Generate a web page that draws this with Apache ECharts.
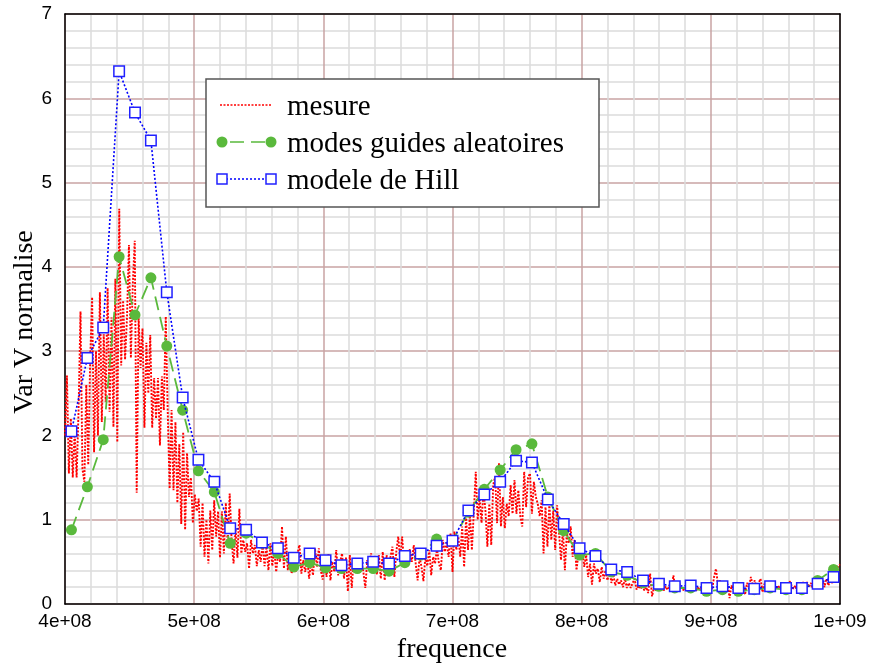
<!DOCTYPE html>
<html>
<head>
<meta charset="utf-8">
<script src="https://cdn.jsdelivr.net/npm/echarts@6/dist/echarts.min.js"></script>
<style>
html,body{margin:0;padding:0;background:#fff;}
#chart{width:872px;height:664px;}
</style>
</head>
<body>
<div id="chart"></div>
<script>
// Frequencies (MHz) of the model points
const freqMHz = [405, 417.3, 429.6, 441.9, 454.2, 466.5, 478.8, 491.1, 503.3, 515.6,
  527.9, 540.2, 552.5, 564.8, 577.1, 589.4, 601.7, 614, 626.3, 638.6,
  650.9, 663.1, 675.4, 687.7, 700, 712.3, 724.6, 736.9, 749.2, 761.5,
  773.8, 786.1, 798.4, 810.7, 822.9, 835.2, 847.5, 859.8, 872.1, 884.4,
  896.7, 909, 921.3, 933.6, 945.9, 958.2, 970.5, 982.7, 995];

const guidesValues = [0.88, 1.39, 1.95, 4.12, 3.43, 3.87, 3.06, 2.30, 1.58, 1.33,
  0.72, 0.84, 0.72, 0.60, 0.44, 0.49, 0.43, 0.42, 0.42, 0.42,
  0.39, 0.49, 0.58, 0.77, 0.75, 1.09, 1.36, 1.59, 1.83, 1.90,
  1.27, 0.87, 0.58, 0.60, 0.38, 0.34, 0.25, 0.21, 0.19, 0.19,
  0.15, 0.17, 0.15, 0.17, 0.19, 0.17, 0.17, 0.28, 0.41];

const hillValues = [2.05, 2.92, 3.28, 6.32, 5.83, 5.50, 3.70, 2.45, 1.71, 1.45,
  0.90, 0.88, 0.73, 0.66, 0.55, 0.60, 0.52, 0.46, 0.48, 0.50,
  0.48, 0.57, 0.60, 0.69, 0.75, 1.11, 1.30, 1.45, 1.70, 1.68,
  1.24, 0.95, 0.66, 0.57, 0.41, 0.38, 0.28, 0.24, 0.21, 0.22,
  0.19, 0.21, 0.19, 0.18, 0.21, 0.19, 0.19, 0.24, 0.32];

// Measurement sweep: 400 MHz .. 1000 MHz, step 1.5 MHz
const mesureStartMHz = 400;
const mesureStepMHz = 1.5;
const mesureValues = [
  2.0, 2.71, 1.55, 2.2, 1.5, 2.05, 1.5, 2.3, 3.47, 1.6,
  1.45, 2.6, 1.65, 2.9, 3.64, 1.8, 3.0, 2.0, 3.70, 2.16,
  3.2, 2.4, 3.75, 2.28, 3.4, 2.1, 3.86, 1.92, 4.69, 2.83,
  3.6, 2.9, 3.4, 4.26, 2.92, 3.8, 4.31, 1.32, 3.39, 2.8,
  3.27, 2.09, 3.1, 2.5, 3.19, 2.09, 2.68, 2.2, 2.68, 1.88,
  2.7, 2.3, 3.41, 2.3, 1.37, 2.3, 1.35, 2.16, 1.2, 1.9,
  0.95, 2.04, 0.88, 1.79, 1.27, 1.5, 0.96, 1.3, 1.1, 1.25,
  0.68, 1.2, 0.56, 1.0, 0.48, 1.11, 0.64, 1.23, 0.8, 1.1,
  0.55, 1.1, 0.6, 1.2, 0.7, 1.31, 0.75, 0.48, 0.9, 0.55,
  1.13, 0.6, 0.76, 0.62, 0.72, 0.42, 0.76, 0.6, 0.7, 0.45,
  0.64, 0.5, 0.72, 0.45, 0.68, 0.4, 0.72, 0.45, 0.64, 0.38,
  0.6, 0.5, 0.92, 0.42, 0.8, 0.4, 0.55, 0.36, 0.52, 0.38,
  0.6, 0.7, 0.36, 0.52, 0.38, 0.56, 0.3, 0.5, 0.34, 0.66,
  0.44, 0.66, 0.4, 0.29, 0.55, 0.32, 0.6, 0.28, 0.5, 0.38,
  0.64, 0.34, 0.5, 0.6, 0.3, 0.55, 0.15, 0.58, 0.19, 0.54,
  0.42, 0.48, 0.4, 0.5, 0.38, 0.19, 0.52, 0.42, 0.6, 0.4,
  0.55, 0.35, 0.58, 0.3, 0.62, 0.28, 0.58, 0.4, 0.56, 0.68,
  0.32, 0.62, 0.8, 0.52, 0.8, 0.48, 0.62, 0.55, 0.65, 0.5,
  0.7, 0.48, 0.28, 0.56, 0.44, 0.27, 0.56, 0.45, 0.64, 0.34,
  0.56, 0.48, 0.66, 0.48, 0.4, 0.76, 0.62, 0.72, 0.56, 0.84,
  0.38, 0.86, 0.64, 0.8, 0.56, 0.92, 0.44, 1.02, 0.64, 1.07,
  0.64, 1.09, 1.57, 1.0, 1.27, 0.96, 1.35, 1.11, 0.68, 1.19,
  0.7, 1.41, 1.51, 0.96, 1.67, 0.92, 1.27, 0.9, 1.19, 1.04,
  1.41, 1.07, 1.47, 1.07, 1.35, 1.04, 0.92, 1.57, 1.15, 1.5,
  1.55, 1.07, 1.45, 1.27, 1.19, 1.04, 1.23, 0.6, 1.15, 0.68,
  1.19, 0.76, 1.11, 0.64, 1.17, 0.84, 0.52, 0.88, 0.4, 0.84,
  0.72, 0.92, 0.56, 0.76, 0.4, 0.6, 0.54, 0.64, 0.44, 0.58,
  0.32, 0.48, 0.23, 0.48, 0.36, 0.42, 0.26, 0.44, 0.3, 0.4,
  0.28, 0.4, 0.25, 0.35, 0.22, 0.3, 0.23, 0.28, 0.2, 0.3,
  0.19, 0.25, 0.19, 0.25, 0.3, 0.17, 0.22, 0.18, 0.22, 0.16,
  0.2, 0.13, 0.36, 0.09, 0.2, 0.16, 0.2, 0.17, 0.22, 0.16,
  0.21, 0.17, 0.2, 0.16, 0.34, 0.2, 0.16, 0.25, 0.18, 0.2,
  0.16, 0.21, 0.16, 0.2, 0.17, 0.2, 0.16, 0.2, 0.17, 0.22,
  0.16, 0.19, 0.17, 0.21, 0.17, 0.32, 0.42, 0.22, 0.28, 0.2,
  0.25, 0.17, 0.24, 0.07, 0.22, 0.17, 0.22, 0.16, 0.2, 0.16,
  0.22, 0.11, 0.25, 0.2, 0.32, 0.22, 0.28, 0.18, 0.25, 0.3,
  0.14, 0.24, 0.18, 0.22, 0.2, 0.16, 0.27, 0.18, 0.22, 0.18,
  0.22, 0.18, 0.25, 0.2, 0.27, 0.22, 0.18, 0.22, 0.14, 0.25,
  0.2, 0.26, 0.2, 0.26, 0.2, 0.25, 0.18, 0.26, 0.2, 0.3,
  0.2, 0.28, 0.2, 0.3, 0.22, 0.28, 0.25, 0.3, 0.33, 0.45,
  0.47
];

const seriesNames = ['mesure', 'modes guides aleatoires', 'modele de Hill'];
const xTitle = 'frequence';
const yTitle = 'Var V normalise';

const RED = '#ff0000', GREEN = '#5ab93c', BLUE = '#0000ff';
const serif = '"Liberation Serif", "Times New Roman", serif';
const sans = '"Liberation Sans", Arial, sans-serif';

const mesureData = mesureValues.map((v, i) => [(mesureStartMHz + i * mesureStepMHz) * 1e6, v]);
const guidesData = freqMHz.map((f, i) => [f * 1e6, guidesValues[i]]);
const hillData = freqMHz.map((f, i) => [f * 1e6, hillValues[i]]);

function sciFmt(v) {
  if (v === 0) return '0';
  const e = Math.floor(Math.log10(v) + 1e-9);
  const m = Math.round(v / Math.pow(10, e) * 100) / 100;
  return m + 'e+' + String(e).padStart(2, '0');
}

const chart = echarts.init(document.getElementById('chart'), null, {renderer: 'canvas'});

const legendRows = [105, 142, 179];
const lx1 = 222, lx2 = 271, ltx = 287;

const frameAxisLine = {show: true, onZero: false, lineStyle: {color: '#000', width: 1.5}};
const gridMajor = {show: true, lineStyle: {color: '#c9a3a3', width: 1.5}};
const gridMinor = {show: true, lineStyle: {color: '#dcdcdc', width: 1.5}};

chart.setOption({
  animation: false,
  backgroundColor: '#fff',
  grid: {left: 65, right: 32, top: 14, bottom: 60, show: false},
  xAxis: [{
    type: 'value', min: 4e8, max: 1e9, interval: 1e8, position: 'bottom',
    axisLine: frameAxisLine,
    axisTick: {show: false},
    axisLabel: {formatter: sciFmt, fontSize: 19, fontFamily: sans, color: '#000', margin: 8},
    splitLine: gridMajor,
    minorTick: {show: false, splitNumber: 5},
    minorSplitLine: gridMinor
  }, {
    type: 'value', min: 4e8, max: 1e9, interval: 1e8, position: 'top', z: 1,
    axisLine: frameAxisLine, axisTick: {show: false}, axisLabel: {show: false},
    splitLine: {show: false}
  }],
  yAxis: [{
    type: 'value', min: 0, max: 7, interval: 1, position: 'left',
    axisLine: frameAxisLine,
    axisTick: {show: false},
    axisLabel: {fontSize: 19, fontFamily: sans, color: '#000', margin: 13},
    splitLine: gridMajor,
    minorTick: {show: false, splitNumber: 5},
    minorSplitLine: gridMinor
  }, {
    type: 'value', min: 0, max: 7, interval: 1, position: 'right', z: 1,
    axisLine: frameAxisLine, axisTick: {show: false}, axisLabel: {show: false},
    splitLine: {show: false}
  }],
  series: [
    {name: seriesNames[0], type: 'line', data: mesureData, symbol: 'none', showSymbol: false,
     lineStyle: {color: RED, width: 1.9, type: [2, 1.5]}, z: 2, silent: true},
    {name: seriesNames[1], type: 'line', data: guidesData, symbol: 'circle', symbolSize: 11,
     itemStyle: {color: GREEN}, lineStyle: {color: GREEN, width: 1.8, type: [14, 7]}, z: 3, silent: true},
    {name: seriesNames[2], type: 'line', data: hillData, symbol: 'rect', symbolSize: 10.5,
     itemStyle: {color: '#fff', borderColor: '#2020ff', borderWidth: 1.5},
     lineStyle: {color: BLUE, width: 1.6, type: [2, 2]}, z: 4, silent: true}
  ],
  graphic: [
    {type: 'text', x: 25, y: 322, rotation: Math.PI / 2, z: 10,
     style: {text: yTitle, font: '28px ' + serif, fill: '#000', textAlign: 'center', textVerticalAlign: 'middle'}},
    {type: 'text', x: 452, y: 650, z: 10,
     style: {text: xTitle, font: '28px ' + serif, fill: '#000', textAlign: 'center', textVerticalAlign: 'middle'}},
    {type: 'rect', z: 20, shape: {x: 206, y: 79, width: 393, height: 128},
     style: {fill: '#fff', stroke: '#555', lineWidth: 1.5}},
    // row 1: mesure
    {type: 'line', z: 21, shape: {x1: 220, y1: legendRows[0], x2: 271, y2: legendRows[0]},
     style: {stroke: RED, lineWidth: 1.7, lineDash: [2, 1.5]}},
    {type: 'text', z: 21, x: ltx, y: legendRows[0] + 2,
     style: {text: seriesNames[0], font: '29px ' + serif, fill: '#000', textVerticalAlign: 'middle'}},
    // row 2: guides
    {type: 'line', z: 21, shape: {x1: lx1, y1: legendRows[1], x2: lx2, y2: legendRows[1]},
     style: {stroke: GREEN, lineWidth: 1.7, lineDash: [14, 7], lineDashOffset: -8}},
    {type: 'circle', z: 22, shape: {cx: lx1, cy: legendRows[1], r: 5.5}, style: {fill: GREEN}},
    {type: 'circle', z: 22, shape: {cx: lx2, cy: legendRows[1], r: 5.5}, style: {fill: GREEN}},
    {type: 'text', z: 21, x: ltx, y: legendRows[1] + 2,
     style: {text: seriesNames[1], font: '29px ' + serif, fill: '#000', textVerticalAlign: 'middle'}},
    // row 3: Hill
    {type: 'line', z: 21, shape: {x1: lx1, y1: legendRows[2], x2: lx2, y2: legendRows[2]},
     style: {stroke: BLUE, lineWidth: 1.6, lineDash: [2, 2]}},
    {type: 'rect', z: 22, shape: {x: lx1 - 5, y: legendRows[2] - 5, width: 10, height: 10},
     style: {fill: '#fff', stroke: '#2020ff', lineWidth: 1.5}},
    {type: 'rect', z: 22, shape: {x: lx2 - 5, y: legendRows[2] - 5, width: 10, height: 10},
     style: {fill: '#fff', stroke: '#2020ff', lineWidth: 1.5}},
    {type: 'text', z: 21, x: ltx, y: legendRows[2] + 2,
     style: {text: seriesNames[2], font: '29px ' + serif, fill: '#000', textVerticalAlign: 'middle'}}
  ]
});
</script>
</body>
</html>
